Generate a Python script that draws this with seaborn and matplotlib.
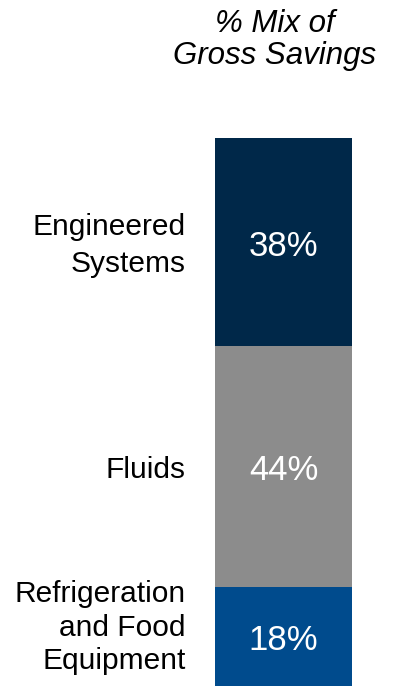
import matplotlib
matplotlib.use("Agg")
import matplotlib.pyplot as plt
import seaborn as sns
import pandas as pd
import numpy as np

sns.set_style("white")
plt.rcParams['font.family'] = ['Liberation Sans', 'DejaVu Sans']

categories = ["Engineered\nSystems", "Fluids", "Refrigeration\nand Food\nEquipment"]
values = [38, 44, 18]
value_labels = ["38%", "44%", "18%"]
colors = ["#002849", "#8C8C8C", "#004B8D"]
label_offsets = [0.0, 0.0, 2.3]
label_spacing = [1.38, 1.3, 1.27]
title = "% Mix of\nGross Savings"

fig = plt.figure(figsize=(4.01, 6.86), dpi=100)
ax = fig.add_axes([215/401, 0.0, 137/401, 548/686])

# stack from bottom: reverse order
order = list(range(len(values)))[::-1]
bottoms = np.concatenate([[0], np.cumsum([values[i] for i in order])[:-1]])
tops = np.cumsum([values[i] for i in order])
# draw cumulative bars, tallest first
for k in range(len(order) - 1, -1, -1):
    i = order[k]
    df = pd.DataFrame({"x": ["mix"], "y": [tops[k]]})
    sns.barplot(data=df, x="x", y="y", color=colors[i], width=1.0,
                saturation=1, ax=ax, edgecolor="none", linewidth=0)

ax.set_xlim(-0.5, 0.5)
ax.set_ylim(0, 100)
ax.axis("off")

for k, i in enumerate(order):
    mid = (bottoms[k] + tops[k]) / 2
    ax.annotate(value_labels[i], xy=(0, mid), xytext=(0, -3),
                textcoords="offset points", ha="center", va="center",
                color="white", fontsize=25)
    ax.annotate(categories[i], xy=(-0.715, mid + label_offsets[i]),
                xytext=(0, -2.5), textcoords="offset points",
                ha="right", va="center", fontsize=21.5, color="black",
                linespacing=label_spacing[i], annotation_clip=False)

fig.text(275/401, 1 - 40/686, title, ha="center", va="center",
         fontsize=22.5, style="italic", color="black", linespacing=1.11)

fig.savefig("out.png", dpi=100)
